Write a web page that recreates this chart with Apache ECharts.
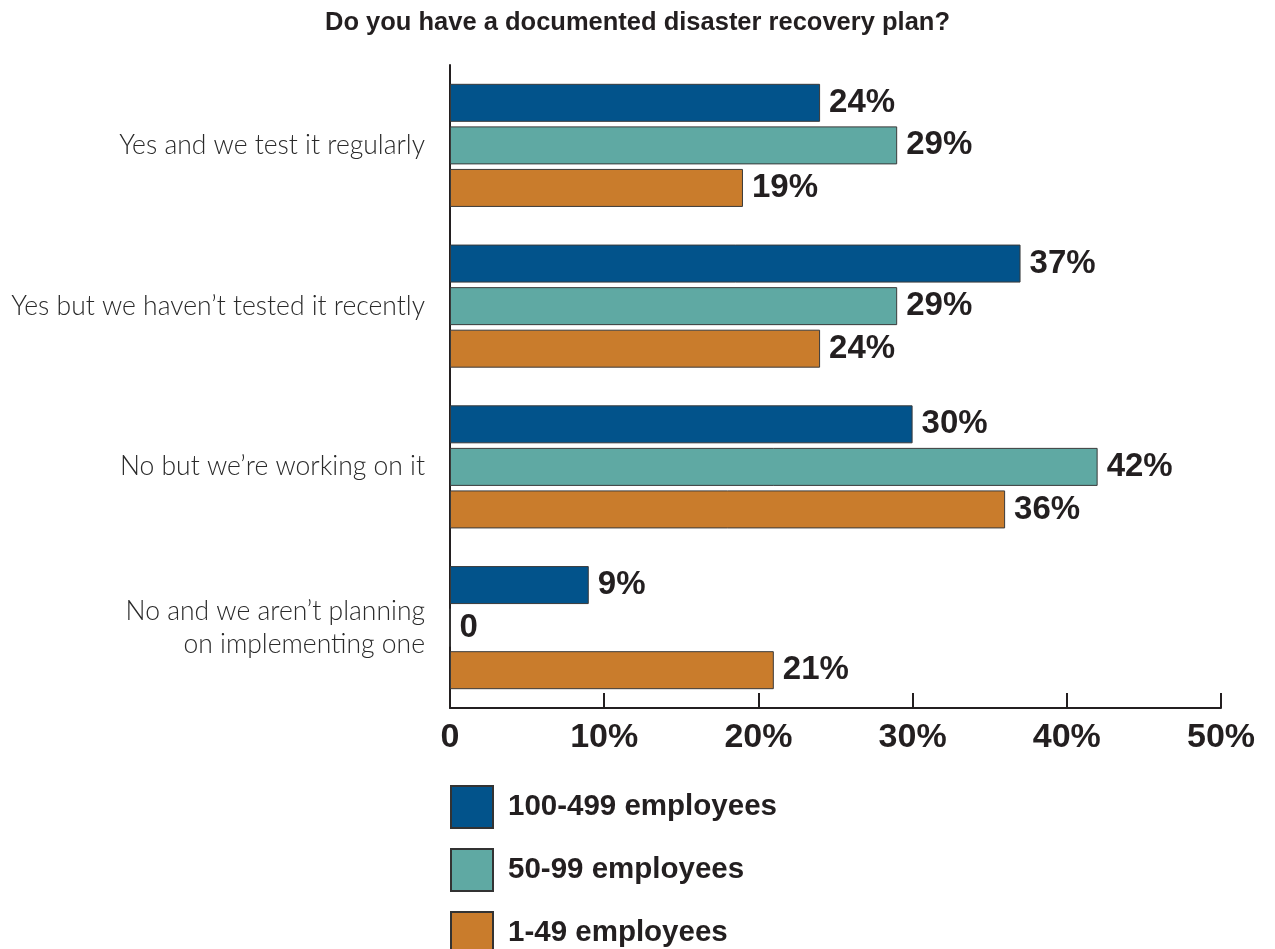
<!DOCTYPE html>
<html>
<head>
<meta charset="utf-8">
<title>Disaster recovery plan</title>
<script src="https://cdn.jsdelivr.net/npm/echarts@6/dist/echarts.min.js"></script>
<style>
  html, body { margin: 0; padding: 0; background: #ffffff; }
  #chart { width: 1275px; height: 949px; }
</style>
</head>
<body>
<div id="chart"></div>
<script>
// Survey answers, top to bottom
const categories = [
  'Yes and we test it regularly',
  'Yes but we haven\u2019t tested it recently',
  'No but we\u2019re working on it',
  'No and we aren\u2019t planning\non implementing one'
];

// Share of respondents (%) by company size
const seriesNames = ['100-499 employees', '50-99 employees', '1-49 employees'];
const large = [24, 37, 30, 9];
const medium = [29, 29, 42, 0];
const small = [19, 24, 36, 21];

const xTicks = [0, 10, 20, 30, 40, 50];

const colors = ['#02538B', '#5FA9A3', '#C97C2C'];
const ink = '#231F20';

const valueLabel = {
  show: true,
  position: 'right',
  distance: 9,
  color: ink,
  fontFamily: 'Liberation Sans',
  fontWeight: 'bold',
  fontSize: 33,
  formatter: p => (p.value === 0 ? '0' : p.value + '%')
};

function barSeries(name, values, color) {
  return {
    name: name,
    type: 'bar',
    data: values,
    barWidth: 38,
    barGap: '12%',
    itemStyle: { color: color, borderColor: '#3a3a3a', borderWidth: 1 },
    label: valueLabel,
    emphasis: { disabled: true },
    animation: false
  };
}

const chart = echarts.init(document.getElementById('chart'), null, { renderer: 'canvas' });

chart.setOption({
  backgroundColor: '#ffffff',
  title: {
    text: 'Do you have a documented disaster recovery plan?',
    left: 'center',
    top: 5,
    textStyle: {
      color: ink,
      fontFamily: 'Liberation Sans',
      fontWeight: 'bold',
      fontSize: 25.5
    }
  },
  legend: {
    orient: 'vertical',
    left: 450,
    top: 785,
    height: 220,
    padding: 0,
    itemWidth: 42,
    itemHeight: 42,
    itemGap: 19,
    icon: 'rect',
    selectedMode: false,
    itemStyle: { borderColor: '#333333', borderWidth: 2 },
    textStyle: {
      color: ink,
      fontFamily: 'Liberation Sans',
      fontWeight: 'bold',
      fontSize: 29.5,
      padding: [3, 0, 0, 10]
    },
    data: seriesNames
  },
  grid: {
    left: 450,
    right: 54,
    top: 65,
    bottom: 241,
    containLabel: false
  },
  xAxis: {
    type: 'value',
    min: xTicks[0],
    max: xTicks[xTicks.length - 1],
    interval: 10,
    splitLine: { show: false },
    axisLine: { show: true, lineStyle: { color: ink, width: 2 } },
    axisTick: { show: true, inside: true, length: 15, lineStyle: { color: ink, width: 2 } },
    axisLabel: {
      margin: 13,
      color: ink,
      fontFamily: 'Liberation Sans',
      fontWeight: 'bold',
      fontSize: 34,
      formatter: v => (v === 0 ? '0' : v + '%')
    }
  },
  yAxis: {
    type: 'category',
    inverse: true,
    data: categories,
    axisLine: { show: true, onZero: false, lineStyle: { color: ink, width: 2 } },
    axisTick: { show: false },
    axisLabel: {
      margin: 25,
      color: '#2a2a2a',
      fontFamily: 'Lato',
      fontWeight: 300,
      fontSize: 26.5,
      lineHeight: 33,
      align: 'right'
    }
  },
  series: [
    barSeries(seriesNames[0], large, colors[0]),
    barSeries(seriesNames[1], medium, colors[1]),
    barSeries(seriesNames[2], small, colors[2])
  ]
});
</script>
</body>
</html>
